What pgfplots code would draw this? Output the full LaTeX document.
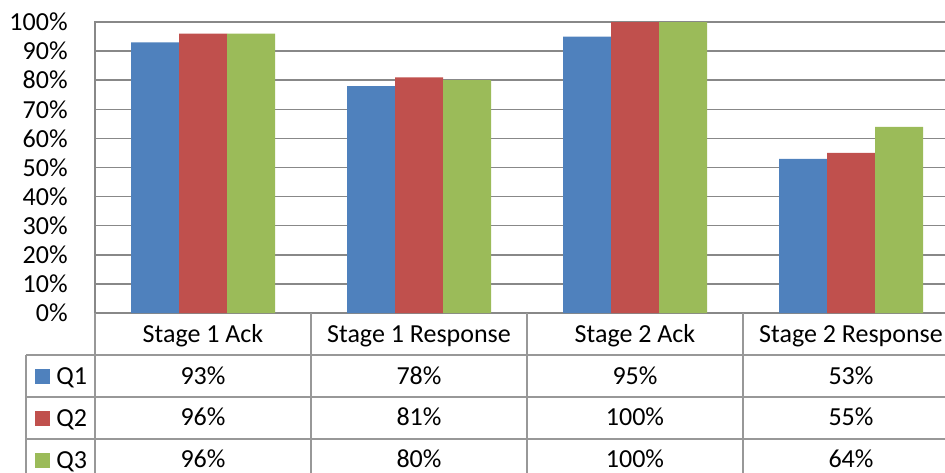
\documentclass[border=0pt]{standalone}
\usepackage{pgfplots}
\pgfplotsset{compat=1.18}
\usepackage{pgfplotstable}
\usepackage{fontspec}
\setmainfont{Carlito}

\definecolor{qblue}{RGB}{79,129,189}
\definecolor{qred}{RGB}{192,80,77}
\definecolor{qgreen}{RGB}{155,187,89}
\definecolor{gridgray}{RGB}{136,136,136}
\definecolor{tablegray}{RGB}{152,152,152}

% completion rates per stage (percent)
\pgfplotstableread{
idx Q1 Q2 Q3
0   93 96  96
1   78 81  80
2   95 100 100
3   53 55  64
}\ratetable

\begin{document}
\begin{tikzpicture}
\path[use as bounding box] (0,0) rectangle (472.5pt,-236pt);
\clip (0,0) rectangle (472.5pt,-236pt);
\begin{axis}[
  at={(47.5pt,-156.5pt)}, anchor=south west,
  scale only axis, width=432pt, height=145.5pt,
  xmin=-0.5, xmax=3.5, ymin=0, ymax=100,
  clip=false,
  font=\fontsize{13pt}{15pt}\selectfont,
  axis line style={draw=gridgray, line width=0.75pt},
  ymajorgrids, grid style={draw=gridgray, line width=0.75pt},
  ytick={0,10,...,100},
  yticklabel={\pgfmathprintnumber[assume math mode=true]{\tick}\%},
  yticklabel style={anchor=east, inner sep=0pt, xshift=-13.5pt},
  xtick={0,1,2,3},
  xticklabels={Stage 1 Ack, Stage 1 Response, Stage 2 Ack, Stage 2 Response},
  xticklabel style={anchor=base, inner sep=0pt, yshift=-14.75pt},
  major tick length=0pt,
  legend style={at={(-0.0799,-0.1443)}, anchor=north west,
    draw=none, fill=none, inner xsep=4.5pt, inner ysep=0pt,
    font=\fontsize{13pt}{15pt}\selectfont,
    nodes={inner sep=0pt, text height=14.4pt, text depth=6.6pt},
    /tikz/every odd column/.append style={column sep=3pt}},
  legend cell align=left,
  every node near coord/.append style={anchor=base, inner sep=0pt,
    font=\fontsize{13pt}{15pt}\selectfont},
]
\pgfplotsset{
  square legend/.style={legend image code/.code={
    \fill[##1, draw=none] (0pt,-3.75pt) rectangle (7.5pt,3.75pt);}},
}
% bars
\addplot[ybar, bar width=24pt, bar shift=-24pt, fill=qblue, draw=none, square legend]
  table[x=idx, y=Q1] {\ratetable};
\addlegendentry{Q1}
\addplot[ybar, bar width=24pt, bar shift=0pt, fill=qred, draw=none, square legend]
  table[x=idx, y=Q2] {\ratetable};
\addlegendentry{Q2}
\addplot[ybar, bar width=24pt, bar shift=24pt, fill=qgreen, draw=none, square legend]
  table[x=idx, y=Q3] {\ratetable};
\addlegendentry{Q3}

% data table grid below the axis
\draw[tablegray, line width=0.75pt]
  (axis cs:-0.8194,-14.43) -- (axis cs:3.5,-14.43)
  (axis cs:-0.8194,-28.87) -- (axis cs:3.5,-28.87)
  (axis cs:-0.8194,-43.30) -- (axis cs:3.5,-43.30)
  (axis cs:-0.8194,-57.73) -- (axis cs:3.5,-57.73)
  (axis cs:-0.8194,-14.43) -- (axis cs:-0.8194,-57.73)
  (axis cs:-0.5,0) -- (axis cs:-0.5,-57.73)
  (axis cs:0.5,0) -- (axis cs:0.5,-57.73)
  (axis cs:1.5,0) -- (axis cs:1.5,-57.73)
  (axis cs:2.5,0) -- (axis cs:2.5,-57.73)
  (axis cs:3.5,0) -- (axis cs:3.5,-57.73);

% table values, one row per series
\addplot[draw=none, mark=none, forget plot, point meta=explicit,
  nodes near coords={\pgfmathprintnumber[assume math mode=true]{\pgfplotspointmeta}\%}]
  table[x=idx, y expr=-24.4, meta=Q1] {\ratetable};
\addplot[draw=none, mark=none, forget plot, point meta=explicit,
  nodes near coords={\pgfmathprintnumber[assume math mode=true]{\pgfplotspointmeta}\%}]
  table[x=idx, y expr=-38.8, meta=Q2] {\ratetable};
\addplot[draw=none, mark=none, forget plot, point meta=explicit,
  nodes near coords={\pgfmathprintnumber[assume math mode=true]{\pgfplotspointmeta}\%}]
  table[x=idx, y expr=-53.2, meta=Q3] {\ratetable};
\end{axis}
\end{tikzpicture}
\end{document}
